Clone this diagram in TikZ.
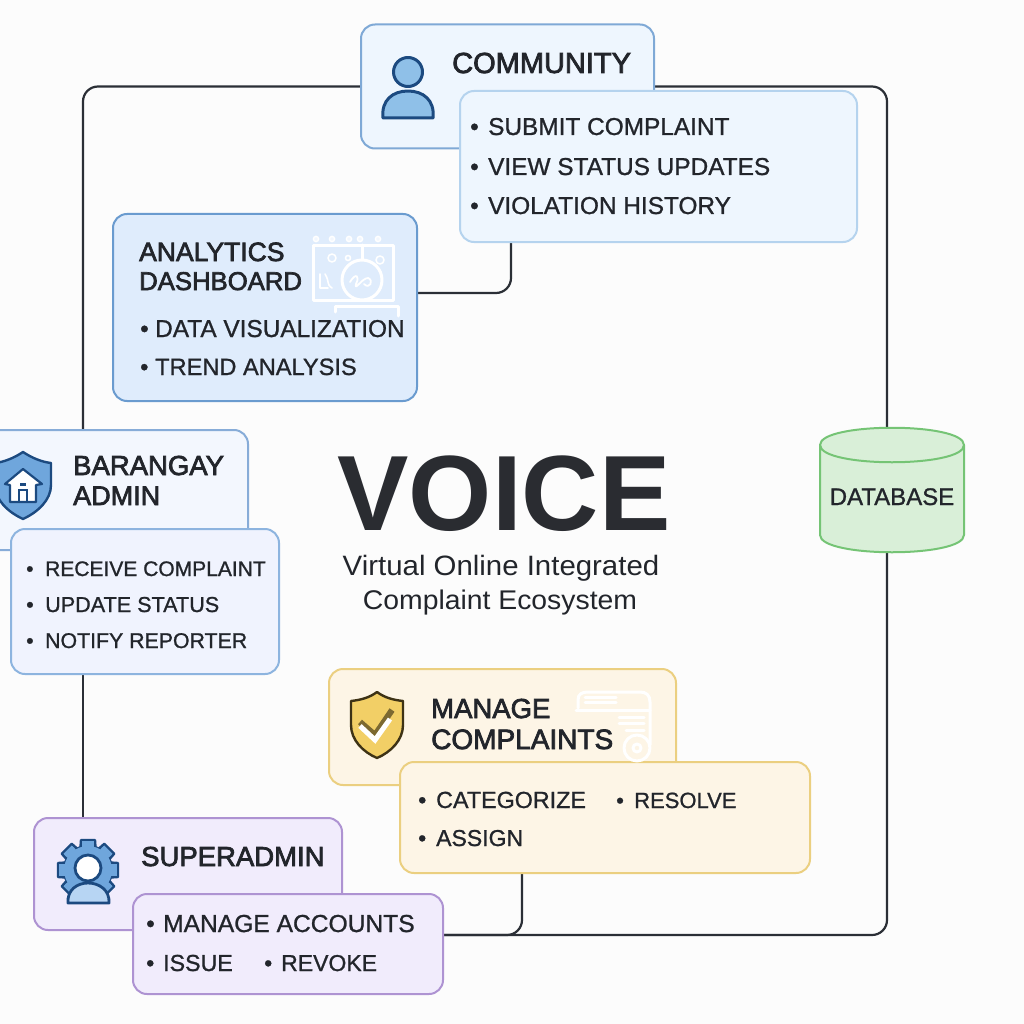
\documentclass[tikz,border=0pt]{standalone}
\usepackage{fontspec}
\setmainfont{Liberation Sans}
\newfontfamily\headfont[FakeBold=2.6]{Liberation Sans}
\newfontfamily\itemfont[FakeBold=1.0]{Liberation Sans}
\newfontfamily\subfont[FakeStretch=1.05]{Liberation Sans}
\usetikzlibrary{backgrounds}
\definecolor{ink}{HTML}{22252B}
\definecolor{titlec}{HTML}{2A2C31}
\definecolor{wirec}{HTML}{2B2F36}
\definecolor{pagebg}{HTML}{FCFCFC}
\definecolor{commF}{HTML}{EEF6FE}
\definecolor{commD}{HTML}{7FA9D6}
\definecolor{commE}{HTML}{B5D3EE}
\definecolor{anaF}{HTML}{DFECFC}
\definecolor{anaD}{HTML}{6A9BCF}
\definecolor{brgF}{HTML}{F3F7FE}
\definecolor{brgD}{HTML}{87ACD8}
\definecolor{brdF}{HTML}{F0F3FE}
\definecolor{brdD}{HTML}{8DB4DF}
\definecolor{mgF}{HTML}{FDF5E6}
\definecolor{mgD}{HTML}{EBCF80}
\definecolor{saF}{HTML}{F1ECFC}
\definecolor{saD}{HTML}{AE93D2}
\definecolor{dbF}{HTML}{D9EFD8}
\definecolor{dbD}{HTML}{75C475}
\definecolor{navy}{HTML}{1C4A80}
\definecolor{midblue}{HTML}{6FA6DC}
\definecolor{skyb}{HTML}{8FC0E8}
\definecolor{paleb}{HTML}{B7D5F3}
\definecolor{goldF}{HTML}{F2CF66}
\definecolor{goldD}{HTML}{3D3215}
\newcommand{\fsz}[1]{\fontsize{#1}{#1}\selectfont}
\newcommand{\bu}[1]{\makebox[#1pt][l]{•}}
\tikzset{
  panel/.style={rectangle,rounded corners=14pt,line width=2pt,inner sep=0pt,outer sep=0pt},
  wire/.style={draw=wirec,line width=2.2pt,rounded corners=15pt},
  head/.style={anchor=base west,inner sep=0pt,text=ink,font=\headfont\fsz{#1}},
  item/.style={anchor=base west,inner sep=0pt,text=ink,font=\itemfont\fsz{#1}},
  ghost/.style={draw=white,line width=3pt,line cap=round,line join=round},
  icon/.style={line width=2.6pt,line join=round},
}
\begin{document}
\begin{tikzpicture}[x=1pt,y=-1pt]
\useasboundingbox (0,0) rectangle (1024,1024);
% ---- panels
\node[panel,draw=commD,fill=commF,minimum width=293pt,minimum height=124pt] (comm) at (507.5,86.5) {};
\node[panel,draw=commE,fill=commF,minimum width=397pt,minimum height=151pt] (commd) at (658.5,166.5) {};
\node[panel,draw=anaD,fill=anaF,minimum width=304pt,minimum height=187pt] (ana) at (265,307.5) {};
\node[panel,draw=brgD,fill=brgF,minimum width=288pt,minimum height=120pt] (brg) at (104,490) {};
\node[panel,draw=brdD,fill=brdF,minimum width=268pt,minimum height=145pt] (brgd) at (145,601.5) {};
\node[panel,draw=mgD,fill=mgF,minimum width=347pt,minimum height=116pt] (mg) at (502.5,727) {};
\node[panel,draw=mgD,fill=mgF,minimum width=410pt,minimum height=111pt] (mgd) at (605,817.5) {};
\node[panel,draw=saD,fill=saF,minimum width=308pt,minimum height=112pt] (sa) at (188,874) {};
\node[panel,draw=saD,fill=saF,minimum width=310pt,minimum height=100pt] (sad) at (288,944) {};
% ---- database
\path[draw=dbD,fill=dbF,line width=2pt]
  (820,445) .. controls (820,422) and (964,422) .. (964,445)
  -- (964,535) .. controls (964,558) and (820,558) .. (820,535) -- cycle;
\draw[dbD,line width=2pt] (820,445) .. controls (820,468) and (964,468) .. (964,445);
\node[inner sep=0pt,outer sep=0pt,minimum width=144pt,minimum height=124pt] (db) at (892,490) {};
\node[item=24,anchor=base] (dbt) at (892,505) {DATABASE};
% ---- connectors
\begin{pgfonlayer}{background}
\fill[pagebg] (0,0) rectangle (1024,1024);
\draw[wire] (comm.west) -| ([xshift=-21pt]brg.north);
\draw[wire] (comm.east) -| ([xshift=-5pt]db.north);
\draw[wire] ([xshift=-5pt]db.south) |- ([yshift=9pt]sad.east);
\draw[wire] ([xshift=-83pt]mgd.south) |- ([yshift=9pt]sad.east);
\draw[wire] ([yshift=14.5pt]ana.east) -| ([xshift=-147.5pt]commd.south);
\draw[wire] ([xshift=-62pt]brgd.south) -- ([xshift=-105pt]sa.north);
\end{pgfonlayer}
% ---- community icon
\draw[navy,fill=skyb,icon,line width=3pt] (408,72) circle (14.5);
\draw[navy,fill=skyb,icon,line width=3pt] (383,118) .. controls (381,100) and (393,91) .. (408,91)
  .. controls (423,91) and (435,100) .. (433,118) -- cycle;
% ---- barangay shield
\path[draw=navy,fill=midblue,line width=2.4pt,line join=round]
  (23,452) .. controls (32,458) and (42,462) .. (51,463) -- (51,485)
  .. controls (51,500) and (38,512) .. (23,519)
  .. controls (8,512) and (-5,500) .. (-5,485) -- (-5,463)
  .. controls (4,462) and (14,458) .. (23,452) -- cycle;
\path[draw=navy,fill=white,line width=2.2pt,line join=round]
  (23,469) -- (42,484) -- (36,485) -- (36,502) -- (10,502) -- (10,485) -- (5,484) -- cycle;
\fill[navy] (20,483) rectangle (26,486);
\draw[navy,line width=1.8pt] (19,502) -- (19,490) -- (27,490) -- (27,502);
% ---- manage shield
\path[draw=goldD,fill=goldF,line width=2.4pt,line join=round]
  (377,692) .. controls (385,698) and (394,700) .. (403,701) -- (403,725)
  .. controls (403,740) and (391,752) .. (377,758)
  .. controls (363,752) and (351,740) .. (351,725) -- (351,701)
  .. controls (360,700) and (369,698) .. (377,692) -- cycle;
\draw[goldD!65!goldF,line width=6pt] (360,722) -- (375,735) -- (392,710);
\draw[white,line width=5pt] (360,726) -- (375,740) -- (390,719);
% ---- ghost icon analytics
\draw[ghost] (313,245) rectangle (393,300);
\draw[ghost] (362,245) -- (362,260);
\draw[ghost,fill=anaF] (362,280) circle (20);
\draw[ghost] (335,312) -- (335,306) -- (398,306) -- (398,316);
\foreach \px in {316,332,349,360,378}
  \draw[white,fill=white!60!anaF,line width=1.4pt] (\px,239) circle (2.6);
\draw[ghost,line width=1.6pt] (332,258) circle (4) (380,260) circle (4) (348,258) circle (2.5);
\draw[ghost,line width=1.8pt] (350,282) .. controls (356,272) and (360,276) .. (356,284)
  .. controls (354,292) and (362,278) .. (368,278) .. controls (374,280) and (370,290) .. (364,284);
\draw[ghost,line width=1.6pt] (320,274) -- (320,288) -- (328,288) (325,274) .. controls (330,282) and (326,284) .. (332,288);
% ---- ghost icon manage
\draw[ghost] (578,708) -- (578,700) .. controls (578,694) and (582,692) .. (588,692)
  -- (640,692) .. controls (646,692) and (650,695) .. (650,702) -- (650,745);
\draw[ghost] (576,710) -- (650,710);
\draw[ghost] (585,697) -- (616,697) (585,702) -- (616,702);
\draw[ghost] (619,717) -- (644,717) (619,723) -- (644,723) (626,730) -- (644,730);
\draw[ghost] (637,748) circle (13);
\draw[ghost] (637,748) circle (4);
% ---- gear
\foreach \ang in {0,45,...,315}
  \draw[navy,fill=midblue,line width=2.4pt,line join=round,rotate around={\ang:(88,870)}]
    (80,855) -- (81,840) -- (95,840) -- (96,855) -- cycle;
\draw[navy,fill=midblue,line width=2.4pt] (88,870) circle (24);
\fill[midblue] (88,870) circle (24);
\foreach \ang in {0,45,...,315}
  \fill[midblue,rotate around={\ang:(88,870)}] (82.3,841.2) rectangle (93.7,855);
\draw[navy,fill=white,line width=2.8pt] (88,868) circle (13);
\draw[navy,fill=paleb,line width=2.8pt,line join=round] (68,903) .. controls (67,890) and (77,883) .. (88,883)
  .. controls (99,883) and (110,890) .. (109,903) -- cycle;
% ---- headings
\node[head=29] (commt) at (452,73) {COMMUNITY};
\node[head=26.5] (anat1) at (139,261) {ANALYTICS};
\node[head=25.7] (anat2) at (139,290) {DASHBOARD};
\node[head=27.5] (brgt1) at (73,475) {BARANGAY};
\node[head=27] (brgt2) at (73,505) {ADMIN};
\node[head=27.5] (mgt1) at (431,718) {MANAGE};
\node[head=28] (mgt2) at (431,749) {COMPLAINTS};
\node[head=27.5] (sat) at (141,866) {SUPERADMIN};
% ---- items
\node[item=24.4] (c1) at (470,135) {\bu{18}SUBMIT COMPLAINT};
\node[item=24.4] (c2) at (470,175) {\bu{18}VIEW STATUS UPDATES};
\node[item=24.4] (c3) at (470,214) {\bu{18}VIOLATION HISTORY};
\node[item=24.4] (a1) at (140,337) {\bu{15}DATA VISUALIZATION};
\node[item=23.6] (a2) at (140,375) {\bu{15}TREND ANALYSIS};
\node[item=21] (b1) at (26,576) {\bu{19}RECEIVE COMPLAINT};
\node[item=21.6] (b2) at (26,612) {\bu{19}UPDATE STATUS};
\node[item=21.3] (b3) at (26,648) {\bu{19}NOTIFY REPORTER};
\node[item=23.3] (m1) at (418,808) {\bu{18}CATEGORIZE};
\node[item=22] (m2) at (616,808) {\bu{18}RESOLVE};
\node[item=23] (m3) at (418,846) {\bu{18}ASSIGN};
\node[item=24.6] (s1) at (146,932) {\bu{17}MANAGE ACCOUNTS};
\node[item=23.2] (s2) at (146,971) {\bu{17}ISSUE};
\node[item=23] (s3) at (264,971) {\bu{17}REVOKE};
% ---- title
\node[inner sep=0pt,anchor=base,text=titlec,font=\bfseries\fsz{107}] (title) at (504,530) {VOICE};
\node[inner sep=0pt,anchor=base,text=ink,font=\subfont\fsz{28}] (sub1) at (501,575) {Virtual Online Integrated};
\node[inner sep=0pt,anchor=base,text=ink,font=\subfont\fsz{27}] (sub2) at (500,609) {Complaint Ecosystem};
\end{tikzpicture}
\end{document}
